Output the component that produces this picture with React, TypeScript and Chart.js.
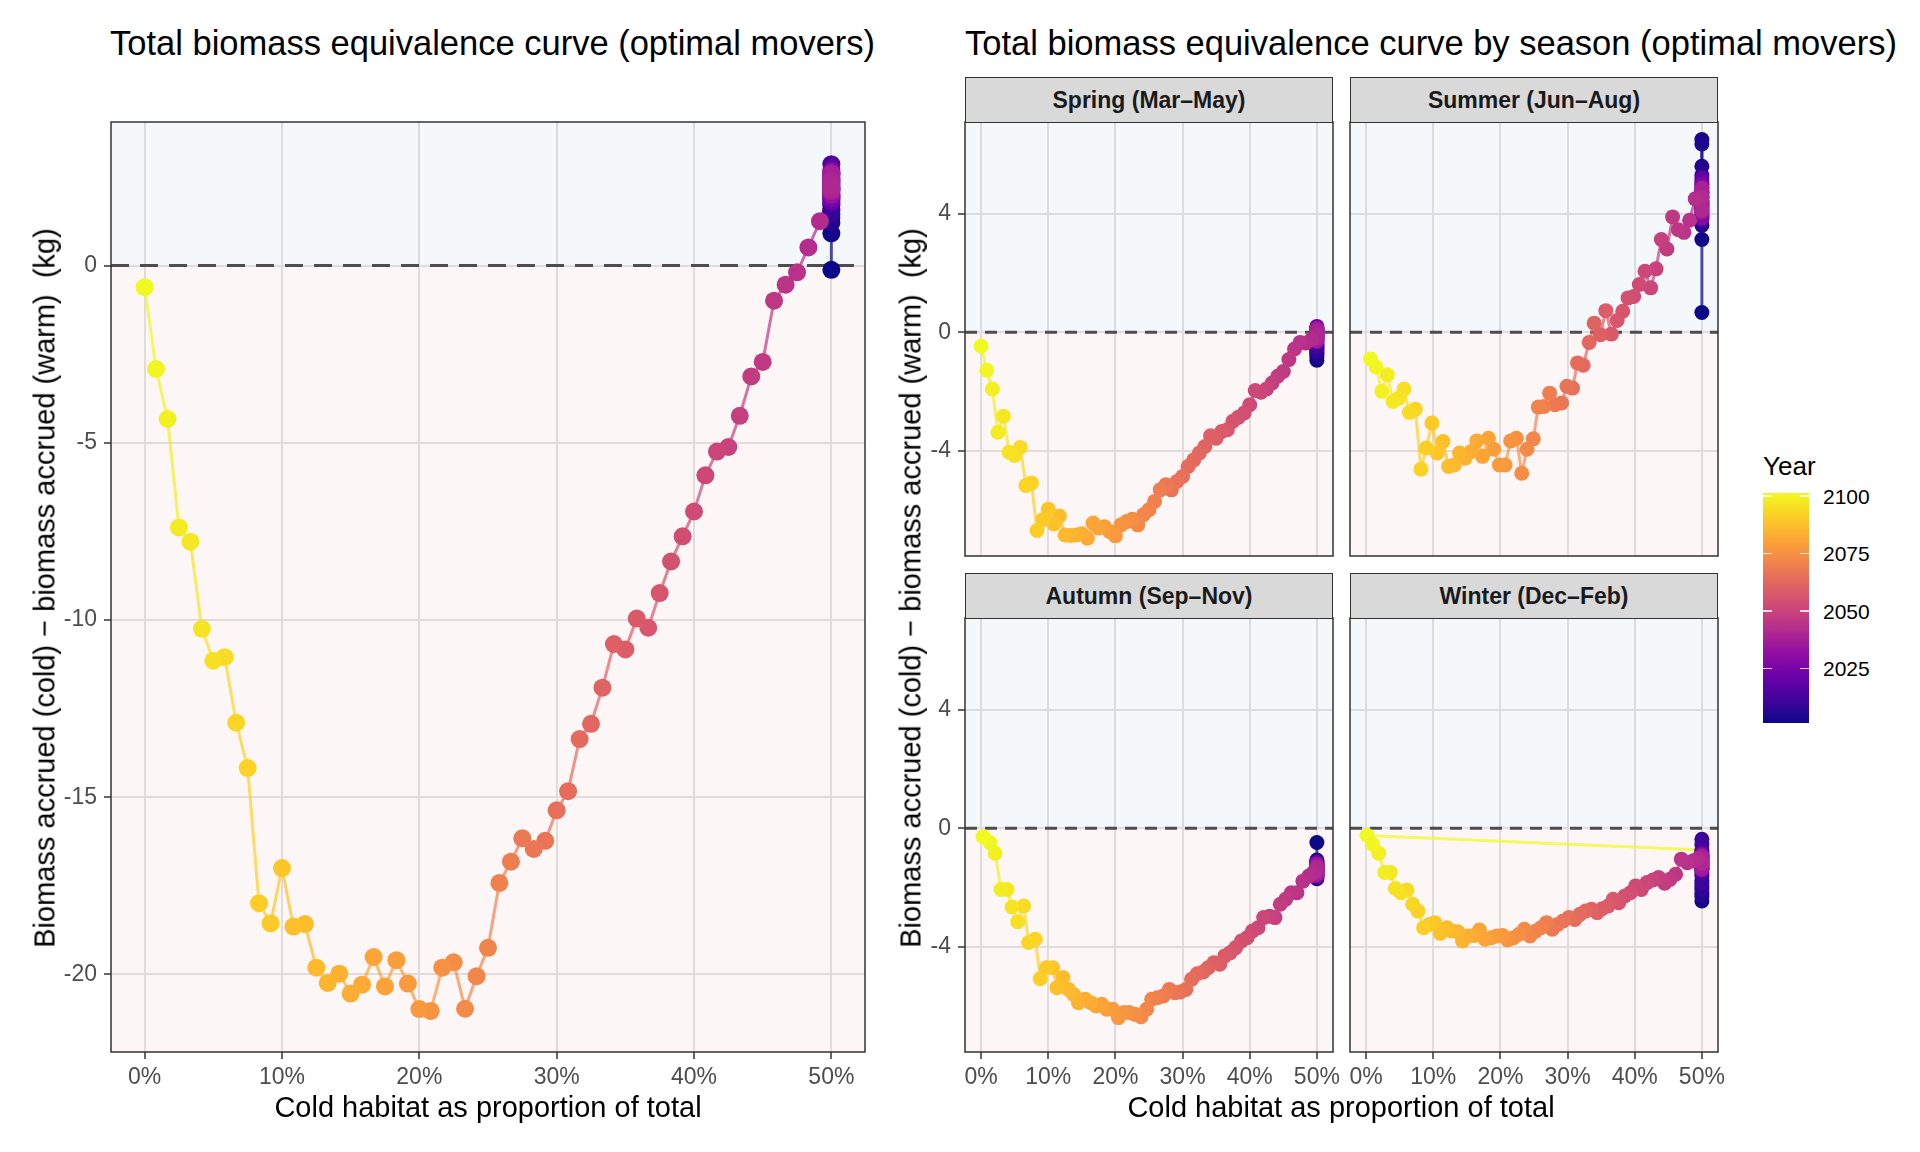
import { useEffect, useRef } from 'react';
import Chart from 'chart.js/auto';

const FONT = '"Liberation Sans", Arial, Helvetica, sans-serif';
Chart.defaults.font.family = FONT;

// years of the series, 2001 .. 2100
const YEARS = [
  2001, 2002, 2003, 2004, 2005, 2006, 2007, 2008, 2009, 2010,
  2011, 2012, 2013, 2014, 2015, 2016, 2017, 2018, 2019, 2020,
  2021, 2022, 2023, 2024, 2025, 2026, 2027, 2028, 2029, 2030,
  2031, 2032, 2033, 2034, 2035, 2036, 2037, 2038, 2039, 2040,
  2041, 2042, 2043, 2044, 2045, 2046, 2047, 2048, 2049, 2050,
  2051, 2052, 2053, 2054, 2055, 2056, 2057, 2058, 2059, 2060,
  2061, 2062, 2063, 2064, 2065, 2066, 2067, 2068, 2069, 2070,
  2071, 2072, 2073, 2074, 2075, 2076, 2077, 2078, 2079, 2080,
  2081, 2082, 2083, 2084, 2085, 2086, 2087, 2088, 2089, 2090,
  2091, 2092, 2093, 2094, 2095, 2096, 2097, 2098, 2099, 2100,
];

// cold habitat share where the early years sit (the cap)
const CAP = 50;
const X_TICKS = [0, 10, 20, 30, 40, 50];
const TOTAL_Y_TICKS = [-20, -15, -10, -5, 0];
const SEASON_Y_TICKS = [-4, 0, 4];

// curves are listed by proportion, i.e. starting from 2100 and going back in time
const TOTAL_PROP = [
  0, 0.83, 1.67, 2.5, 3.33, 4.17, 5, 5.83, 6.67, 7.5,
  8.33, 9.17, 10, 10.83, 11.67, 12.5, 13.33, 14.17, 15, 15.83,
  16.67, 17.5, 18.33, 19.17, 20, 20.83, 21.67, 22.5, 23.33, 24.17,
  25, 25.83, 26.67, 27.5, 28.33, 29.17, 30, 30.83, 31.67, 32.5,
  33.33, 34.17, 35, 35.83, 36.67, 37.5, 38.33, 39.17, 40, 40.83,
  41.67, 42.5, 43.33, 44.17, 45, 45.83, 46.67, 47.5, 48.33, 49.17,
];
const TOTAL_DIFF = [
  -0.61, -2.92, -4.33, -7.39, -7.79, -10.25, -11.15, -11.05, -12.9, -14.18,
  -17.99, -18.56, -17.0, -18.65, -18.58, -19.81, -20.24, -19.98, -20.54, -20.29,
  -19.51, -20.34, -19.6, -20.26, -20.98, -21.03, -19.81, -19.66, -20.97, -20.05,
  -19.25, -17.42, -16.82, -16.16, -16.46, -16.23, -15.37, -14.83, -13.36, -12.93,
  -11.91, -10.68, -10.83, -9.96, -10.22, -9.24, -8.35, -7.64, -6.94, -5.92,
  -5.25, -5.12, -4.24, -3.13, -2.72, -0.99, -0.54, -0.19, 0.51, 1.25,
];
// values at the cap, 2001 onwards
const TOTAL_CAP_DIFF = [
  -0.12, 0.91, 1.35, 1.55, 1.2, 1.7, 1.45, 1.85, 1.6, 2.0,
  1.75, 2.2, 1.9, 2.86, 2.1, 2.4, 1.95, 2.6, 2.25, 1.8,
  2.45, 2.15, 2.7, 2.3, 1.9, 2.55, 2.35, 2.05, 2.65, 2.2,
  2.5, 2.0, 2.6, 2.3, 2.45, 2.15, 2.6, 2.1, 2.4, 2.2,
];

const SPRING_PROP = TOTAL_PROP;
const SPRING_DIFF = [
  -0.47, -1.28, -1.91, -3.37, -2.83, -4.04, -4.15, -3.88, -5.16, -5.08,
  -6.68, -6.32, -5.96, -6.46, -6.19, -6.83, -6.85, -6.83, -6.79, -6.94,
  -6.43, -6.6, -6.55, -6.72, -6.86, -6.49, -6.38, -6.3, -6.49, -6.15,
  -5.98, -5.7, -5.31, -5.14, -5.31, -5.03, -4.86, -4.52, -4.3, -4.07,
  -3.85, -3.49, -3.57, -3.34, -3.28, -3.0, -2.86, -2.72, -2.44, -1.96,
  -2.02, -1.91, -1.71, -1.48, -1.32, -0.92, -0.56, -0.34, -0.36, -0.25,
];
const SPRING_CAP_DIFF = [
  -0.94, -0.75, -0.85, -0.6, -0.7, -0.5, -0.65, -0.4, -0.55, -0.3,
  -0.45, -0.2, -0.35, -0.1, -0.25, 0.0, -0.15, 0.1, -0.05, 0.2,
  -0.1, 0.05, -0.2, 0.15, -0.05, 0.1, -0.15, 0.0, -0.25, 0.05,
  -0.1, 0.15, -0.2, 0.0, -0.3, 0.1, -0.15, 0.05, -0.2, -0.1,
];

const SUMMER_PROP = [
  0.64, 1.49, 2.33, 3.17, 4.01, 4.85, 5.64, 6.44, 7.33, 8.17,
  8.96, 9.8, 10.59, 11.44, 12.28, 13.12, 13.91, 14.75, 15.64, 16.49,
  17.33, 18.22, 19.01, 19.85, 20.69, 21.53, 22.38, 23.17, 23.96, 24.9,
  25.64, 26.49, 27.33, 28.12, 29.11, 29.9, 30.74, 31.49, 32.33, 33.22,
  33.96, 34.9, 35.69, 36.53, 37.38, 38.22, 39.01, 39.85, 40.69, 41.53,
  42.38, 43.17, 43.96, 44.8, 45.64, 46.49, 47.33, 48.17, 49.01,
];
const SUMMER_DIFF = [
  -0.9, -1.17, -1.99, -1.43, -2.33, -2.22, -1.91, -2.7, -2.59, -4.61,
  -3.9, -3.06, -4.07, -3.68, -4.52, -4.47, -4.07, -4.24, -4.02, -3.66,
  -4.18, -3.57, -3.94, -4.47, -4.47, -3.66, -3.57, -4.75, -3.94, -3.59,
  -2.52, -2.5, -2.05, -2.44, -2.38, -1.82, -1.88, -1.03, -1.11, -0.34,
  0.31, -0.08, 0.73, -0.06, 0.4, 0.71, 1.16, 1.21, 1.61, 2.06,
  1.5, 2.14, 3.13, 2.81, 3.89, 3.46, 3.37, 3.78, 4.5,
];
const SUMMER_CAP_DIFF = [
  0.67, 3.13, 6.5, 6.35, 5.6, 3.6, 5.3, 4.0, 5.0, 4.2,
  4.8, 3.8, 5.1, 4.4, 4.7, 3.9, 4.9, 4.3, 5.2, 4.1,
  4.6, 3.95, 4.5, 4.25, 5.0, 4.35, 4.7, 3.85, 4.55, 4.15,
  4.9, 4.4, 4.05, 4.75, 4.3, 4.6, 4.2, 4.85, 4.45, 4.1,
  4.55,
];

const AUTUMN_PROP = [
  0.3, 1.29, 2.08, 2.97, 3.86, 4.6, 5.45, 6.34, 7.08, 8.07,
  8.81, 9.7, 10.64, 11.29, 12.18, 13.02, 13.76, 14.5, 15.5, 16.34,
  17.13, 17.97, 18.71, 19.6, 20.45, 21.29, 22.08, 22.92, 23.81, 24.65,
  25.4, 26.24, 27.13, 28.02, 28.86, 29.6, 30.5, 31.34, 32.18, 33.07,
  33.81, 34.65, 35.54, 36.29, 37.13, 37.92, 38.76, 39.6, 40.4, 41.24,
  42.08, 42.97, 43.76, 44.55, 45.35, 46.19, 47.03, 47.92, 48.81, 49.5,
];
const AUTUMN_DIFF = [
  -0.28, -0.48, -0.84, -2.06, -2.06, -2.65, -3.15, -2.62, -3.85, -3.74,
  -5.07, -4.7, -4.7, -5.37, -5.03, -5.43, -5.6, -5.88, -5.76, -5.88,
  -5.99, -5.93, -6.1, -6.1, -6.38, -6.21, -6.21, -6.27, -6.35, -6.1,
  -5.76, -5.71, -5.65, -5.43, -5.54, -5.52, -5.43, -5.09, -4.9, -4.84,
  -4.7, -4.53, -4.58, -4.3, -4.19, -4.02, -3.8, -3.69, -3.46, -3.35,
  -3.01, -2.96, -3.01, -2.56, -2.39, -2.17, -2.17, -1.78, -1.61, -1.49,
];
const AUTUMN_CAP_DIFF = [
  -0.48, -1.07, -1.7, -1.25, -1.55, -1.1, -1.4, -1.6, -1.2, -1.45,
  -1.3, -1.65, -1.15, -1.5, -1.35, -1.25, -1.55, -1.4, -1.2, -1.6,
  -1.3, -1.45, -1.15, -1.5, -1.35, -1.25, -1.55, -1.4, -1.3, -1.6,
  -1.2, -1.45, -1.35, -1.5, -1.25, -1.4, -1.55, -1.3, -1.45, -1.35,
];

const WINTER_PROP = [
  0.15, 0.99, 1.88, 2.77, 3.61, 4.36, 5.2, 6.09, 6.93, 7.72,
  8.56, 9.41, 10.2, 11.04, 12.03, 12.77, 13.66, 14.36, 15.25, 16.09,
  16.88, 17.72, 18.61, 19.46, 20.3, 21.09, 21.93, 22.77, 23.56, 24.41,
  25.25, 26.04, 26.88, 27.72, 28.51, 29.36, 30.2, 31.09, 31.83, 32.67,
  33.56, 34.41, 35.15, 36.04, 36.78, 37.62, 38.51, 39.36, 40.15, 40.99,
  41.83, 42.72, 43.56, 44.46, 45.25, 46.09, 46.93, 47.82, 48.66, 49.41,
];
const WINTER_DIFF = [
  -0.24, -0.54, -0.84, -1.49, -1.49, -2.03, -2.17, -2.08, -2.56, -2.79,
  -3.35, -3.24, -3.18, -3.54, -3.35, -3.46, -3.49, -3.8, -3.63, -3.61,
  -3.43, -3.74, -3.69, -3.63, -3.61, -3.76, -3.69, -3.57, -3.4, -3.63,
  -3.46, -3.35, -3.18, -3.4, -3.24, -3.12, -3.01, -3.07, -2.9, -2.79,
  -2.73, -2.84, -2.71, -2.62, -2.39, -2.51, -2.28, -2.17, -1.94, -2.06,
  -1.83, -1.74, -1.66, -1.85, -1.72, -1.55, -1.04, -1.16, -1.1, -1.02,
];
const WINTER_CAP_DIFF = [
  -0.73, -2.45, -2.2, -1.95, -2.3, -1.75, -2.05, -1.6, -0.37, -1.85,
  -0.55, -1.5, -0.8, -1.3, -0.95, -1.2, -1.05, -1.4, -0.9, -1.25,
  -1.1, -1.35, -0.85, -1.15, -1.0, -1.3, -0.95, -1.2, -1.05, -1.4,
  -0.9, -1.15, -1.25, -1.0, -1.35, -1.1, -0.95, -1.2, -1.05, -1.15,
];

// plasma colour scale
const PLASMA = ['#0d0887', '#41049d', '#6a00a8', '#8f0da4', '#b12a90', '#cc4778',
  '#e16462', '#f2844b', '#fca636', '#fcce25', '#f0f921'];
const YEAR_MIN = 2001;
const YEAR_MAX = 2100;

function hexRgb(h: string) {
  return [parseInt(h.slice(1, 3), 16), parseInt(h.slice(3, 5), 16), parseInt(h.slice(5, 7), 16)];
}

function plasma(year: number, alpha = 1) {
  const t = Math.min(1, Math.max(0, (year - YEAR_MIN) / (YEAR_MAX - YEAR_MIN))) * (PLASMA.length - 1);
  const i = Math.min(PLASMA.length - 2, Math.floor(t));
  const f = t - i;
  const a = hexRgb(PLASMA[i]);
  const b = hexRgb(PLASMA[i + 1]);
  const c = a.map((v, k) => Math.round(v + (b[k] - v) * f));
  return `rgba(${c[0]},${c[1]},${c[2]},${alpha})`;
}

type Pt = { x: number; y: number; year: number };

// path in year order: capped years first, then the curve from the cap back to 0%
function buildPath(capDiff: number[], prop: number[], diff: number[]): Pt[] {
  const cap = capDiff.map((y, k) => ({ x: CAP, y, year: YEARS[k] }));
  const curve = prop.map((x, i) => ({ x, y: diff[i], year: YEARS[YEARS.length - 1 - i] }));
  return [...cap, ...curve.reverse()];
}

type PanelProps = {
  pts: Pt[];
  box: [number, number, number, number];
  xRange: [number, number];
  yRange: [number, number];
  yTicks: number[];
  showX: boolean;
  showY: boolean;
  radius: number;
  dash: number[];
};

// margin kept around a panel on the sides without an axis; it has to be larger
// than half a point, because chart.js reserves that much for point overflow anyway
const EDGE = 12;

function Panel({ pts, box, xRange, yRange, yTicks, showX, showY, radius, dash }: PanelProps) {
  const ref = useRef<HTMLCanvasElement | null>(null);
  const [L, T, R, B] = box;
  const ml = showY ? 80 : EDGE;
  const mb = showX ? 50 : EDGE;
  const mt = EDGE;
  const mr = EDGE;
  const w = R - L + ml + mr;
  const h = B - T + mt + mb;

  useEffect(() => {
    if (!ref.current) return;
    const deco = {
      id: 'panelDeco',
      beforeDatasetsDraw(chart: any) {
        const { ctx, chartArea: a } = chart;
        const y0 = chart.scales.y.getPixelForValue(0);
        ctx.save();
        ctx.fillStyle = 'rgba(70,130,180,0.06)';
        ctx.fillRect(a.left, a.top, a.right - a.left, y0 - a.top);
        ctx.fillStyle = 'rgba(220,80,80,0.05)';
        ctx.fillRect(a.left, y0, a.right - a.left, a.bottom - y0);
        ctx.strokeStyle = '#4d4d4d';
        ctx.lineWidth = 3;
        ctx.setLineDash(dash);
        ctx.beginPath();
        ctx.moveTo(a.left, y0);
        ctx.lineTo(a.right, y0);
        ctx.stroke();
        ctx.restore();
      },
      afterDraw(chart: any) {
        const { ctx, chartArea: a } = chart;
        ctx.save();
        ctx.strokeStyle = '#333333';
        ctx.lineWidth = 1.5;
        ctx.strokeRect(a.left, a.top, a.right - a.left, a.bottom - a.top);
        ctx.restore();
      },
    };

    const tickFont = { size: 23, family: FONT };
    const grid = {
      color: '#e3e3e3',
      lineWidth: 2,
      tickColor: '#333333',
      tickLength: 7,
      tickWidth: 1.5,
    };
    const noPad = (s: any) => {
      s.paddingLeft = 0;
      s.paddingRight = 0;
      s.paddingTop = 0;
      s.paddingBottom = 0;
    };

    const chart = new Chart(ref.current, {
      type: 'scatter',
      data: {
        datasets: [
          {
            data: pts,
            showLine: true,
            borderWidth: 3,
            borderColor: plasma(YEAR_MAX, 0.75),
            pointRadius: radius,
            pointHoverRadius: radius,
            pointBorderWidth: 0,
            pointBackgroundColor: pts.map((p) => plasma(p.year)),
            segment: {
              borderColor: (ctx: any) => plasma(pts[ctx.p0DataIndex].year, 0.7),
            },
          } as any,
        ],
      },
      options: {
        animation: false,
        responsive: false,
        events: [],
        layout: {
          padding: { top: mt, right: mr, bottom: showX ? 0 : mb, left: showY ? 0 : ml },
        },
        plugins: { legend: { display: false }, tooltip: { enabled: false } },
        scales: {
          x: {
            type: 'linear',
            min: xRange[0],
            max: xRange[1],
            afterBuildTicks: (s: any) => {
              s.ticks = X_TICKS.map((v) => ({ value: v }));
            },
            afterFit: (s: any) => {
              s.height = showX ? mb : 0;
              noPad(s);
            },
            grid: { ...grid, drawTicks: showX },
            border: { display: false },
            ticks: {
              display: showX,
              autoSkip: false,
              maxRotation: 0,
              padding: 5,
              color: '#4d4d4d',
              font: tickFont,
              callback: (v: any) => `${v}%`,
            },
          },
          y: {
            type: 'linear',
            min: yRange[0],
            max: yRange[1],
            afterBuildTicks: (s: any) => {
              s.ticks = yTicks.map((v) => ({ value: v }));
            },
            afterFit: (s: any) => {
              s.width = showY ? ml : 0;
              noPad(s);
            },
            grid: { ...grid, drawTicks: showY },
            border: { display: false },
            ticks: {
              display: showY,
              autoSkip: false,
              padding: 7,
              color: '#4d4d4d',
              font: tickFont,
              callback: (v: any) => `${v}`,
            },
          },
        },
      } as any,
      plugins: [deco],
    });

    return () => {
      chart.destroy();
    };
  }, [pts, L, T, R, B]);

  return (
    <canvas
      ref={ref}
      width={w}
      height={h}
      style={{ position: 'absolute', left: L - ml, top: T - mt, width: w, height: h }}
    />
  );
}

const totalPts = buildPath(TOTAL_CAP_DIFF, TOTAL_PROP, TOTAL_DIFF);
const springPts = buildPath(SPRING_CAP_DIFF, SPRING_PROP, SPRING_DIFF);
const summerPts = buildPath(SUMMER_CAP_DIFF, SUMMER_PROP, SUMMER_DIFF);
const autumnPts = buildPath(AUTUMN_CAP_DIFF, AUTUMN_PROP, AUTUMN_DIFF);
// in winter the path starts at the 2100 point and jumps to the cap
const winterRaw = buildPath(WINTER_CAP_DIFF, WINTER_PROP, WINTER_DIFF);
const winterPts = [winterRaw[winterRaw.length - 1], ...winterRaw.slice(0, -1)];

const Y_TITLE = 'Biomass accrued (cold) \u2212 biomass accrued (warm)  (kg)';
const X_TITLE = 'Cold habitat as proportion of total';
const LEGEND_TICKS = [2100, 2075, 2050, 2025];

function Strip({ left, top, width, label }: { left: number; top: number; width: number; label: string }) {
  return (
    <div
      style={{
        position: 'absolute', left, top, width, height: 46, boxSizing: 'border-box',
        background: '#d9d9d9', border: '1.5px solid #333333',
        display: 'flex', alignItems: 'center', justifyContent: 'center',
        fontWeight: 'bold', fontSize: 23, color: '#1a1a1a', lineHeight: 1,
      }}
    >
      {label}
    </div>
  );
}

export default function App() {
  const rightX: [number, number] = [-2.4, 52.4];
  const rightY: [number, number] = [-7.54, 7.09];
  const barTop = 493;
  const barBottom = 723;
  const barTopYear = 2101.2;
  const barBottomYear = 2001.2;
  const yearToBar = (yr: number) => barTop + ((barTopYear - yr) / (barTopYear - barBottomYear)) * (barBottom - barTop);

  const textBase = { position: 'absolute' as const, lineHeight: 1, whiteSpace: 'pre' as const, color: '#000' };

  return (
    <div style={{ position: 'absolute', left: 0, top: 0, width: 1920, height: 1152, background: '#fff', overflow: 'hidden', fontFamily: FONT }}>
      <div style={{ ...textBase, left: 110, top: 26, fontSize: 34.5 }}>Total biomass equivalence curve (optimal movers)</div>
      <div style={{ ...textBase, left: 965, top: 26, fontSize: 34.5 }}>Total biomass equivalence curve by season (optimal movers)</div>

      <Panel pts={totalPts} box={[111, 122, 865, 1052]} xRange={[-2.45, 52.45]} yRange={[-22.19, 4.05]}
        yTicks={TOTAL_Y_TICKS} showX showY radius={9} dash={[18, 11]} />

      <Panel pts={springPts} box={[965, 122, 1333, 556]} xRange={rightX} yRange={rightY}
        yTicks={SEASON_Y_TICKS} showX={false} showY radius={7.5} dash={[12, 8]} />
      <Panel pts={summerPts} box={[1350, 122, 1718, 556]} xRange={rightX} yRange={rightY}
        yTicks={SEASON_Y_TICKS} showX={false} showY={false} radius={7.5} dash={[12, 8]} />
      <Panel pts={autumnPts} box={[965, 618, 1333, 1052]} xRange={rightX} yRange={rightY}
        yTicks={SEASON_Y_TICKS} showX showY radius={7.5} dash={[12, 8]} />
      <Panel pts={winterPts} box={[1350, 618, 1718, 1052]} xRange={rightX} yRange={rightY}
        yTicks={SEASON_Y_TICKS} showX showY={false} radius={7.5} dash={[12, 8]} />

      <Strip left={965} top={77} width={368} label="Spring (Mar–May)" />
      <Strip left={1350} top={77} width={368} label="Summer (Jun–Aug)" />
      <Strip left={965} top={573} width={368} label="Autumn (Sep–Nov)" />
      <Strip left={1350} top={573} width={368} label="Winter (Dec–Feb)" />

      <div style={{ ...textBase, left: 488, top: 1093, fontSize: 29, transform: 'translateX(-50%)' }}>{X_TITLE}</div>
      <div style={{ ...textBase, left: 1341, top: 1093, fontSize: 29, transform: 'translateX(-50%)' }}>{X_TITLE}</div>
      <div style={{ ...textBase, left: 45, top: 588, fontSize: 29, transform: 'translate(-50%, -50%) rotate(-90deg)' }}>{Y_TITLE}</div>
      <div style={{ ...textBase, left: 911, top: 588, fontSize: 29, transform: 'translate(-50%, -50%) rotate(-90deg)' }}>{Y_TITLE}</div>

      <div style={{ ...textBase, left: 1763, top: 453, fontSize: 26 }}>Year</div>
      <div
        style={{
          position: 'absolute', left: 1763, top: barTop, width: 46, height: barBottom - barTop,
          background: `linear-gradient(to top, ${PLASMA.join(', ')})`,
        }}
      />
      {LEGEND_TICKS.map((yr) => (
        <div key={yr}>
          <div style={{ position: 'absolute', left: 1763, top: yearToBar(yr) - 0.75, width: 9, height: 1.5, background: 'rgba(255,255,255,0.8)' }} />
          <div style={{ position: 'absolute', left: 1800, top: yearToBar(yr) - 0.75, width: 9, height: 1.5, background: 'rgba(255,255,255,0.8)' }} />
          <div style={{ ...textBase, left: 1823, top: yearToBar(yr), fontSize: 21, transform: 'translateY(-50%)' }}>{yr}</div>
        </div>
      ))}
    </div>
  );
}
